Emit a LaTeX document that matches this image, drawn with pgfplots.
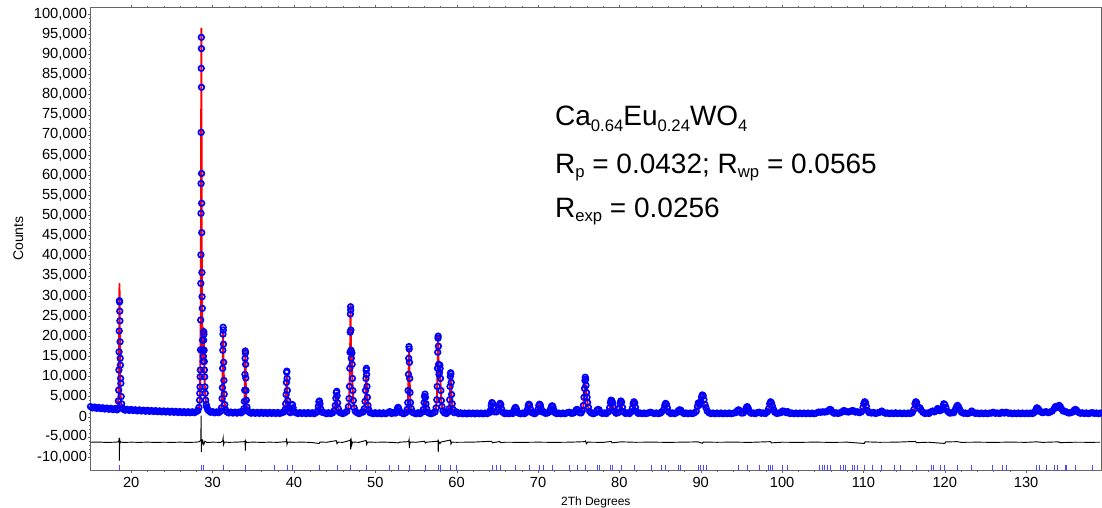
\documentclass[border=0pt]{standalone}
\usepackage{fontspec}
\setmainfont{Liberation Sans}
\usepackage{pgfplots}
\pgfplotsset{compat=1.18}
% subscript in the annotation: smaller and lowered
\newcommand{\sub}[2][-4.5pt]{\raisebox{#1}{\fontsize{12.5}{14}\selectfont #2}}

\begin{document}
\begin{tikzpicture}
\begin{axis}[
  scale only axis,
  width=757.9pt, height=347pt,
  xmin=15, xmax=139.2,
  ymin=-13235, ymax=101650,
  xtick={20,30,40,50,60,70,80,90,100,110,120,130},
  ytick={-10000,-5000,0,5000,10000,15000,20000,25000,30000,35000,40000,45000,50000,55000,60000,65000,70000,75000,80000,85000,90000,95000,100000},
  minor x tick num=4,
  minor y tick num=4,
  scaled y ticks=false,
  scaled x ticks=false,
  /pgf/number format/fixed,
  /pgf/number format/precision=0,
  /pgf/number format/1000 sep={,},
  /pgf/number format/assume math mode=true,
  tick align=outside,
  major tick length=2pt,
  minor tick length=1.2pt,
  axis line style={black!60},
  tick style={black!60},
  tick label style={font=\fontsize{11}{13}\selectfont},
  yticklabel style={inner xsep=0.5pt},
  xlabel={2Th Degrees},
  ylabel={Counts},
  xlabel style={font=\fontsize{9}{11}\selectfont},
  ylabel style={font=\fontsize{10.5}{12}\selectfont, yshift=4pt},
]
% observed
\addplot[only marks, mark=o, mark size=2.1pt, mark options={line width=1.25pt, draw=blue}] coordinates {
(15,2500)(15.25,2180)(15.5,2380)(15.75,2060)(16,2300)(16.25,2000)(16.5,2200)(16.75,1900)(17,2120)(17.25,1850)(17.5,2080)(17.75,1760)(18,1980)(18.25,1700)
(18.35,2100)(18.42,3900)(18.46,6600)(18.49,11600)(18.51,16100)(18.53,21300)(18.55,28800)(18.57,28500)(18.59,26200)(18.61,23800)(18.63,18600)(18.65,14500)(18.67,12800)(18.70,9500)(18.73,8300)(18.77,5000)(18.82,3200)(18.9,2200)
(19,1880)(19.25,1620)(19.5,1820)(19.75,1560)(20,1780)(20.25,1530)(20.5,1700)(20.75,1450)(21,1680)(21.25,1420)(21.5,1600)(21.75,1360)(22,1580)(22.25,1330)(22.5,1520)(22.75,1290)(23,1500)(23.25,1250)(23.5,1440)(23.75,1200)(24,1420)(24.25,1170)(24.5,1370)(24.75,1120)(25,1340)(25.25,1090)(25.5,1300)(25.75,1040)(26,1270)(26.25,1010)(26.5,1240)(26.75,980)(27,1220)(27.25,970)(27.5,1210)(27.75,990)(28,1250)(28.2,1500)(28.32,2300)
(28.40,4100)(28.43,5800)(28.46,7400)(28.48,9900)(28.50,11600)(28.52,16600)(28.54,24000)(28.56,33100)(28.57,40200)(28.58,50500)(28.59,57900)(28.60,70600)(28.61,86500)(28.62,94200)(28.63,91400)(28.64,81800)(28.65,60400)(28.66,53000)(28.67,45700)(28.69,35800)(28.71,29800)(28.74,26900)(28.77,19000)(28.80,16600)(28.84,13700)(28.87,15000)(28.90,19000)(28.92,21100)(28.94,20500)(28.96,16500)(28.98,13700)(29.00,11600)(29.03,9900)(29.06,7400)(29.10,5800)(29.15,4100)(29.22,3000)(29.3,2300)(29.4,1800)
(29.5,1500)(29.75,1100)(30,1250)(30.25,960)(30.5,1180)(30.75,1000)(31.0,1350)
(31.10,2200)(31.17,4500)(31.21,7200)(31.24,12000)(31.26,16500)(31.28,20500)(31.30,22200)(31.32,21500)(31.34,18000)(31.36,13500)(31.39,9000)(31.43,5600)(31.50,3000)(31.6,1700)
(31.75,1200)(32,930)(32.25,1150)(32.5,900)(32.75,1120)(33,880)(33.25,1150)(33.5,950)(33.75,1300)
(33.85,2000)(33.91,3800)(33.95,6600)(33.98,10500)(34.00,14500)(34.02,16300)(34.04,15800)(34.06,13000)(34.08,9600)(34.11,6500)(34.15,4100)(34.22,2400)(34.32,1500)
(34.5,1100)(34.75,850)(35,1080)(35.25,840)(35.5,1050)(35.75,820)(36,1070)(36.25,830)(36.5,1040)(36.75,800)(37,1050)(37.25,820)(37.5,1030)(37.75,790)(38,1040)(38.25,800)(38.5,1000)(38.75,1150)
(38.92,1800)(38.99,3200)(39.04,5500)(39.08,8500)(39.11,11000)(39.13,11300)(39.16,9500)(39.19,6500)(39.23,4000)(39.30,2200)(39.4,1300)
(39.55,1000)(39.68,1900)(39.76,2900)(39.82,3000)(39.9,2200)(40.0,1200)
(40.25,1000)(40.5,780)(40.75,1000)(41,800)(41.25,990)(41.5,760)(41.75,1010)(42,790)(42.25,970)(42.5,760)(42.75,1050)
(42.9,1400)(43.0,2600)(43.07,3700)(43.13,3900)(43.2,3200)(43.3,1900)(43.45,1100)
(43.75,980)(44,750)(44.25,990)(44.5,770)(44.75,950)
(44.95,1500)(45.08,2800)(45.15,4600)(45.21,6000)(45.26,6300)(45.31,5200)(45.37,3400)(45.45,2000)(45.6,1100)
(45.75,960)(46,760)(46.25,980)(46.5,1300)
(46.70,2500)(46.78,4500)(46.83,7500)(46.87,12000)(46.90,16000)(46.92,21000)(46.94,25500)(46.96,27300)(46.98,26500)(47.00,21500)(47.02,16500)(47.05,14500)(47.09,16000)(47.12,15800)(47.15,13000)(47.19,9500)(47.24,6500)(47.30,4000)(47.4,2200)(47.55,1300)
(47.75,1000)(48,770)(48.25,980)(48.5,1200)
(48.65,2000)(48.74,3800)(48.80,6500)(48.85,9500)(48.88,11500)(48.91,12000)(48.94,10500)(48.98,7500)(49.03,4800)(49.1,2800)(49.2,1700)(49.35,1000)
(49.5,950)(49.75,740)(50,980)(50.25,760)(50.5,950)(50.75,720)(51,960)(51.25,750)(51.5,940)(51.75,1250)(51.85,1150)(52,800)(52.25,980)(52.5,900)
(52.65,1500)(52.75,2200)(52.82,2300)(52.9,1900)(53.0,1200)
(53.25,930)(53.5,740)(53.75,1000)
(53.92,1800)(53.99,3500)(54.04,6500)(54.08,10500)(54.11,14500)(54.14,17400)(54.17,16800)(54.20,13500)(54.23,9500)(54.27,6000)(54.33,3500)(54.42,2000)(54.55,1100)
(54.75,930)(55,730)(55.25,970)(55.5,760)(55.75,1100)
(55.9,1800)(56.0,3500)(56.06,5000)(56.11,5600)(56.16,4800)(56.23,3200)(56.33,1900)(56.45,1100)
(56.6,900)(56.85,740)(57.1,930)(57.35,1200)
(57.48,2200)(57.56,4200)(57.61,7500)(57.65,12000)(57.68,16000)(57.71,19500)(57.73,20000)(57.76,17500)(57.79,13000)(57.83,10500)(57.88,11000)(57.93,12800)(57.97,12000)(58.01,9500)(58.06,6500)(58.12,4000)(58.2,2500)(58.32,1400)
(58.5,950)(58.75,780)(59.0,1200)
(59.08,2000)(59.14,4200)(59.19,7500)(59.23,10000)(59.26,10900)(59.29,10600)(59.33,8500)(59.38,5500)(59.45,3200)(59.55,1800)(59.7,1000)
(59.95,1200)(60.25,760)(60.5,950)(60.75,720)(61,900)(61.25,700)(61.5,920)(61.75,750)(62,890)(62.25,700)(62.5,910)(62.75,740)(63,880)(63.25,710)(63.5,900)(63.75,760)(64,1000)
(64.15,1600)(64.25,2800)(64.33,3500)(64.42,3300)(64.52,2200)(64.62,1200)(64.9,1200)
(65.15,1700)(65.25,2900)(65.34,3300)(65.43,3000)(65.53,1900)(65.65,1100)
(65.9,760)(66.15,900)(66.4,730)(66.65,890)(66.9,800)
(67.05,1500)(67.15,2100)(67.24,2300)(67.33,2000)(67.45,1200)
(67.6,900)(67.85,730)(68.1,900)(68.35,750)(68.6,1100)
(68.7,1800)(68.8,2800)(68.88,3100)(68.96,2900)(69.06,2000)(69.18,1100)
(69.35,900)(69.6,740)(69.85,1100)
(70.0,1800)(70.1,2800)(70.19,3100)(70.28,2900)(70.38,2000)(70.5,1200)(70.7,1200)(70.9,850)
(71.15,900)(71.4,1200)
(71.55,1900)(71.65,2500)(71.74,2700)(71.83,2500)(71.94,1700)(72.08,1000)
(72.3,760)(72.55,900)(72.8,740)(73.05,900)(73.3,750)(73.55,950)(73.85,1100)(74.1,830)(74.35,900)(74.55,1200)
(74.7,1700)(74.8,1800)(74.9,1600)(75.1,1000)(75.3,950)
(75.45,1500)(75.58,2800)(75.66,4800)(75.72,7000)(75.77,9000)(75.81,9800)(75.85,9300)(75.9,7800)(75.96,6000)(76.03,4800)(76.1,3500)(76.2,2300)(76.35,1300)(76.55,900)
(76.8,740)(77.05,950)
(77.25,1600)(77.38,1800)(77.5,1700)(77.65,1100)
(77.9,800)(78.15,920)(78.4,760)(78.65,1200)
(78.8,2200)(78.9,3500)(78.98,4100)(79.06,4000)(79.16,3500)(79.26,2400)(79.4,1300)(79.6,850)
(79.85,1000)
(80.0,2000)(80.1,3300)(80.18,3900)(80.27,3600)(80.38,2300)(80.52,1200)
(80.75,800)(81.0,950)(81.25,770)(81.45,1200)
(81.6,2100)(81.7,3200)(81.79,3700)(81.88,3400)(81.98,2300)(82.1,1300)
(82.3,830)(82.55,920)(82.8,750)(83.05,900)(83.3,770)(83.55,920)(83.8,1100)(84.05,950)(84.3,790)(84.55,930)(84.8,760)(85.05,900)(85.2,1200)
(85.45,1800)(85.58,2800)(85.68,3300)(85.78,3100)(85.9,2200)(86.05,1200)
(86.3,800)(86.55,930)(86.8,760)(87.05,1000)
(87.25,1500)(87.4,1700)(87.55,1600)(87.7,1100)
(87.95,770)(88.2,920)(88.45,740)(88.7,900)(88.95,750)(89.2,950)(89.45,1300)
(89.6,2500)(89.7,3400)(89.8,3200)(89.9,3000)(90.0,3800)(90.1,4900)(90.2,5400)(90.3,5200)(90.4,4200)(90.52,3000)(90.65,2200)(90.8,1400)(91.0,1000)
(91.25,770)(91.5,900)(91.75,740)(92,890)(92.25,760)(92.5,910)(92.75,730)(93,880)(93.25,750)(93.5,900)(93.75,740)(94,880)(94.3,1000)
(94.5,1500)(94.65,1700)(94.8,1500)(95.0,900)(95.25,950)
(95.5,1600)(95.62,2300)(95.72,2500)(95.84,2100)(96.0,1200)(96.2,850)
(96.45,930)(96.7,760)(96.95,1000)(97.2,1100)(97.45,850)(97.7,930)(97.95,800)(98.2,1200)
(98.35,2000)(98.48,3200)(98.58,3700)(98.68,3500)(98.8,2700)(98.95,1800)(99.1,1100)
(99.35,800)(99.6,920)(99.85,1000)(100.05,1400)(100.25,1350)(100.5,1000)(100.7,1250)(100.95,800)(101.2,900)(101.45,750)(101.7,890)(101.95,740)(102.2,900)(102.45,760)(102.7,890)(102.95,740)(103.2,900)(103.45,750)(103.7,880)(103.95,740)(104.2,900)(104.5,1150)(104.75,1100)(105.0,1200)(105.25,1150)(105.5,1250)
(105.75,1600)(105.88,1800)(106.0,1700)(106.15,1200)
(106.4,850)(106.65,950)(106.9,800)(107.15,1000)(107.4,1200)(107.55,1500)(107.7,1450)(107.9,1250)(108.15,1150)(108.4,1300)(108.6,1500)(108.8,1450)(109.0,1150)(109.27,1200)(109.5,1000)(109.75,1200)
(109.95,2300)(110.05,3300)(110.15,3700)(110.25,3500)(110.35,2600)(110.5,1500)(110.7,1000)
(111.0,900)(111.25,1050)(111.5,800)(111.75,950)(112.0,1100)(112.25,1400)(112.45,1100)(112.7,850)(112.95,920)(113.2,770)(113.45,900)(113.7,760)(113.95,950)(114.2,780)(114.5,900)(114.75,750)(115.0,890)(115.25,760)(115.5,900)(115.75,780)(116.0,1000)
(116.2,1800)(116.33,3200)(116.43,3700)(116.53,3500)(116.65,2500)(116.8,2100)(116.95,2200)(117.1,1600)(117.3,1100)
(117.55,800)(117.8,920)(118.05,800)(118.3,1200)(118.5,1400)(118.7,1200)(118.9,1400)(119.1,2000)(119.25,1700)(119.4,1500)(119.6,1700)(119.75,2500)(119.88,3200)(120.0,3000)(120.15,2200)(120.35,1300)(120.6,900)
(120.85,950)(121.1,1000)(121.3,1800)(121.45,2500)(121.57,2800)(121.7,2400)(121.85,1700)(122.05,1100)(122.3,850)
(122.55,900)(122.8,780)(123.05,920)(123.3,1400)(123.5,1100)(123.75,800)(124,900)(124.25,750)(124.5,890)(124.75,760)(125,900)(125.25,750)(125.5,880)(125.75,900)(125.95,1100)(126.2,850)(126.45,920)(126.7,800)(126.9,900)(127.06,1100)(127.3,900)(127.55,1100)(127.8,850)(128.05,900)(128.3,750)(128.55,880)(128.8,760)(129.05,900)(129.3,750)(129.55,890)(129.8,760)(130.05,880)(130.3,770)(130.55,900)(130.8,780)(131.05,1100)
(131.2,1800)(131.32,2200)(131.45,2000)(131.6,1600)(131.8,1200)(132.0,1000)(132.2,1100)(132.45,1250)(132.7,1000)(132.95,1150)(133.2,1400)
(133.45,2000)(133.6,2500)(133.75,2300)(133.9,2400)(134.05,2800)(134.2,2500)(134.35,1900)(134.55,1400)(134.8,1300)(135.0,1100)(135.25,900)(135.5,1000)(135.75,1200)
(135.9,1600)(136.05,1800)(136.2,1600)(136.4,1100)(136.65,850)(136.9,950)(137.15,800)(137.4,920)(137.65,770)(137.9,900)(138.15,1000)(138.4,800)(138.65,900)(138.9,770)(139.1,880)
};
% calculated
\addplot[red, line width=1.45pt, line join=round] coordinates {
(15,2330)(16,2150)(17,2000)(18,1860)(18.3,1850)(18.45,5000)(18.52,20000)(18.56,33000)(18.60,20000)(18.68,6000)(18.8,2600)(19.0,1780)(20,1660)(21,1550)(22,1450)(23,1370)(24,1290)(25,1210)(26,1150)(27,1100)(28,1120)
(28.3,1500)(28.45,4500)(28.55,25000)(28.6,70000)(28.62,96400)(28.64,75000)(28.68,35000)(28.75,19000)(28.85,14000)(28.92,22000)(28.98,13000)(29.05,7000)(29.15,4000)(29.3,2000)(29.5,1300)(30,1080)
(31.0,1100)(31.15,3000)(31.24,11000)(31.3,21000)(31.36,12000)(31.45,4000)(31.6,1600)(31.8,1050)
(33.75,1000)(33.9,2600)(33.98,9000)(34.03,17000)(34.08,8500)(34.18,2800)(34.35,1300)(34.5,980)
(38.8,920)(38.98,2600)(39.07,7000)(39.13,10000)(39.19,5500)(39.3,2000)(39.45,1100)(39.6,1000)(39.78,2800)(39.95,1400)(40.1,900)
(42.85,900)(43.02,2600)(43.12,3600)(43.25,2200)(43.5,900)
(44.9,900)(45.1,3000)(45.24,6000)(45.35,3500)(45.5,1400)(45.7,900)
(46.6,1100)(46.8,4000)(46.9,14000)(46.96,27700)(47.01,16000)(47.06,13000)(47.1,15500)(47.18,9000)(47.3,3500)(47.5,1400)(47.7,900)
(48.6,1100)(48.78,4500)(48.9,11000)(48.98,6500)(49.1,2500)(49.35,950)
(51.6,870)(51.77,1200)(51.95,870)(52.55,870)(52.78,2200)(52.95,1300)(53.1,860)
(53.85,1000)(54.0,3000)(54.09,10000)(54.15,16800)(54.22,9000)(54.33,3000)(54.5,1200)(54.7,860)
(55.85,950)(56.0,3000)(56.1,5400)(56.2,3500)(56.35,1500)(56.55,860)
(57.4,1100)(57.58,4500)(57.68,14000)(57.73,20000)(57.79,12000)(57.86,9500)(57.93,12500)(58.02,8000)(58.12,3500)(58.3,1400)(58.5,900)
(59.0,950)(59.15,3800)(59.24,9800)(59.3,9500)(59.4,4000)(59.55,1500)(59.75,880)(59.97,1100)(60.2,850)
(64.0,840)(64.2,1800)(64.35,3300)(64.5,2000)(64.7,1000)(64.95,1150)(65.15,1500)(65.35,3200)(65.52,1700)(65.75,850)
(66.95,850)(67.12,1800)(67.25,2200)(67.4,1300)(67.6,850)
(68.55,850)(68.72,1800)(68.88,3000)(69.05,1800)(69.25,850)
(69.85,870)(70.02,1800)(70.2,3000)(70.37,1800)(70.55,1000)(70.7,1200)(70.85,850)
(71.4,870)(71.58,1700)(71.74,2600)(71.9,1700)(72.1,850)
(73.7,850)(73.86,1100)(74.0,850)(74.4,870)(74.6,1200)(74.8,1700)(75.0,1100)(75.3,1000)
(75.55,2200)(75.7,6000)(75.8,9400)(75.9,7000)(76.05,4000)(76.2,2000)(76.45,1000)(76.7,850)
(77.1,870)(77.3,1500)(77.5,1600)(77.7,1000)(77.9,850)
(78.6,870)(78.8,1800)(78.98,4000)(79.1,3000)(79.2,3400)(79.35,1800)(79.55,900)
(79.85,880)(80.02,1800)(80.2,3700)(80.36,2000)(80.6,880)
(81.45,880)(81.63,1800)(81.8,3500)(81.97,2000)(82.2,870)
(83.8,870)(83.96,1100)(84.1,860)(85.2,1000)(85.45,1500)(85.7,3200)(85.9,1900)(86.15,870)
(87.1,870)(87.3,1400)(87.5,1600)(87.7,1000)(87.9,850)
(89.4,900)(89.62,2600)(89.7,3300)(89.85,2700)(90.0,3200)(90.2,5200)(90.35,3600)(90.5,2800)(90.7,1600)(91.0,900)
(94.3,860)(94.5,1300)(94.65,1600)(94.85,1100)(95.1,870)(95.45,1200)(95.7,2400)(95.9,1400)(96.2,850)
(97.0,860)(97.2,1100)(97.4,860)(98.1,900)(98.3,1700)(98.45,2800)(98.6,3600)(98.75,2800)(98.9,1900)(99.1,1000)(99.3,850)
(99.9,870)(100.06,1300)(100.3,1200)(100.5,950)(100.67,1150)(100.9,850)
(104.3,850)(104.55,1100)(104.95,1150)(105.3,1050)(105.56,1150)(105.9,1700)(106.1,1300)(106.4,860)
(107.2,950)(107.55,1400)(107.8,1300)(108.1,1000)(108.6,1400)(108.86,1300)(109.27,1150)(109.6,1000)
(109.9,1700)(110.05,2800)(110.15,3600)(110.3,2400)(110.45,1400)(110.7,900)
(111.1,980)(111.4,850)(112.0,950)(112.25,1300)(112.5,950)(112.8,850)
(116.0,900)(116.2,1600)(116.35,2800)(116.45,3500)(116.6,2300)(116.8,1800)(116.95,2000)(117.15,1200)(117.4,850)
(118.1,870)(118.3,1200)(118.6,1300)(118.85,1200)(119.1,1800)(119.3,1400)(119.6,1500)(119.88,3000)(120.05,2400)(120.3,1200)(120.6,870)
(121.1,950)(121.35,1600)(121.57,2600)(121.8,1600)(122.1,900)(122.4,850)
(123.1,870)(123.3,1300)(123.55,870)(125.7,850)(125.9,1050)(126.1,850)(126.9,870)(127.06,1050)(127.3,900)(127.55,1050)(127.8,850)
(130.8,850)(131.05,950)(131.3,2000)(131.5,1600)(131.75,1100)(132.0,950)(132.45,1150)(132.8,950)(133.2,1200)
(133.6,2300)(133.85,1900)(134.05,2600)(134.3,1700)(134.8,1200)(135.2,900)(135.8,1100)(136.05,1700)(136.3,1100)(136.6,870)(138.2,950)(138.4,850)(139.1,860)
};
% difference
\addplot[black, line width=0.7pt] coordinates {
(15,-6350)(16,-6300)(17,-6400)(18,-6330)(18.45,-6250)(18.5,-5700)(18.53,-6100)(18.55,-10900)(18.58,-5300)(18.62,-6600)(18.7,-6250)(19,-6400)(20,-6330)(21,-6380)(22,-6320)(23,-6400)(24,-6340)(25,-6380)(26,-6330)(27,-6390)(28,-6330)
(28.4,-6200)(28.55,-5800)(28.6,250)(28.62,-8800)(28.65,-5600)(28.7,-6800)(28.8,-6000)(28.92,-6900)(29.05,-6100)(29.3,-6400)(30,-6330)(31,-6380)(31.25,-6000)(31.3,-5300)(31.35,-6900)(31.45,-6300)(32,-6370)(33,-6320)
(33.95,-6200)(34.0,-6000)(34.03,-8400)(34.07,-6100)(34.2,-6380)(35,-6320)(36,-6380)(37,-6330)(38,-6370)(39.05,-6200)(39.1,-5400)(39.15,-6900)(39.25,-6300)(40,-6360)(41,-6320)(42,-6380)(43.1,-6650)(43.2,-6300)(44,-6360)
(45.2,-5950)(45.3,-6700)(45.4,-6330)(46,-6370)(46.9,-5900)(46.95,-5700)(46.98,-8100)(47.05,-6000)(47.12,-6900)(47.2,-6300)(48,-6370)(48.88,-5900)(48.95,-6900)(49.05,-6300)(50,-6360)(51,-6320)(52,-6380)(52.8,-6500)(53,-6330)
(54.1,-6200)(54.15,-5700)(54.18,-7800)(54.24,-6800)(54.3,-6300)(55,-6360)(56.05,-6100)(56.15,-6550)(56.3,-6330)(57.65,-6100)(57.7,-5900)(57.74,-8800)(57.78,-6100)(57.95,-6700)(58.05,-6300)(59.25,-5800)(59.3,-6800)(59.4,-6330)
(60,-6360)(62,-6320)(64.3,-6100)(64.4,-6500)(65.3,-6150)(65.4,-6450)(66,-6340)(68,-6380)(70,-6330)(72,-6380)(74,-6330)(75.75,-6200)(75.85,-6000)(75.95,-6700)(76.1,-6330)(78,-6380)(79.0,-6150)(79.1,-6500)(80.2,-6250)
(82,-6360)(84,-6320)(86,-6380)(88,-6320)(89.7,-6250)(90.2,-6600)(90.3,-6300)(92,-6360)(94,-6320)(96,-6380)(98.6,-6200)(98.7,-6500)(100,-6340)(102,-6380)(104,-6320)(106,-6380)(108,-6330)(110.1,-6650)(110.2,-6250)
(112,-6360)(114,-6330)(116.4,-6150)(116.5,-6450)(118,-6340)(120,-6650)(120.1,-6280)(121.5,-6200)(122,-6370)(124,-6330)(126,-6380)(128,-6320)(130,-6370)(131.3,-6250)(132,-6380)(134,-6250)(134.1,-6450)(136,-6340)(138,-6370)(139.1,-6340)
};
% reflection positions
\addplot[only marks, mark=|, mark size=2.1pt, mark options={blue!70, line width=0.6pt}] coordinates {
(18.56,-12690)(28.61,-12690)(28.89,-12690)(31.35,-12690)(34.02,-12690)(37.63,-12690)(39.14,-12690)(39.8,-12690)(43.16,-12690)(45.29,-12690)(46.94,-12690)(48.9,-12690)(51.77,-12690)(52.8,-12690)(54.15,-12690)(56.1,-12690)(57.7,-12690)(58.0,-12690)(59.27,-12690)(59.97,-12690)
(64.4,-12690)(64.94,-12690)(65.4,-12690)(67.26,-12690)(68.9,-12690)(70.2,-12690)(70.7,-12690)(71.74,-12690)(73.86,-12690)(74.8,-12690)(75.8,-12690)(77.24,-12690)(77.5,-12690)(78.95,-12690)(79.2,-12690)(80.2,-12690)(81.8,-12690)(83.96,-12690)(85.2,-12690)(85.7,-12690)
(87.2,-12690)(87.5,-12690)(89.67,-12690)(89.95,-12690)(90.28,-12690)(90.68,-12690)(94.64,-12690)(95.7,-12690)(97.2,-12690)(98.3,-12690)(98.6,-12690)(98.84,-12690)(100.06,-12690)(100.67,-12690)(104.55,-12690)(104.98,-12690)(105.2,-12690)(105.56,-12690)(105.9,-12690)
(107.2,-12690)(107.55,-12690)(107.8,-12690)(108.6,-12690)(108.86,-12690)(109.27,-12690)(110.1,-12690)(111.1,-12690)(112.25,-12690)(113.8,-12690)(114.5,-12690)(116.5,-12690)(118.3,-12690)(118.6,-12690)(119.4,-12690)(119.9,-12690)(121.6,-12690)(123.3,-12690)
(125.9,-12690)(127.06,-12690)(127.55,-12690)(131.3,-12690)(131.6,-12690)(132.45,-12690)(133.5,-12690)(133.87,-12690)(134.77,-12690)(134.9,-12690)(136.1,-12690)(138.2,-12690)
};
\node[anchor=base west, inner sep=0pt, font=\fontsize{21}{25}\selectfont] at (axis cs:72.07,72430) {Ca\sub{0.64}Eu\sub{0.24}WO\sub{4}};
\node[anchor=base west, inner sep=0pt, font=\fontsize{21}{25}\selectfont] at (axis cs:72.07,60440) {R\sub[-3.5pt]{p} = 0.0432; R\sub[-3.5pt]{wp} = 0.0565};
\node[anchor=base west, inner sep=0pt, font=\fontsize{21}{25}\selectfont] at (axis cs:72.07,49510) {R\sub[-3.5pt]{exp} = 0.0256};
\end{axis}
\pgfresetboundingbox
\path[use as bounding box] ([shift={(-67.9pt,-28.5pt)}]current axis.south west) rectangle ([shift={(0.75pt,5.5pt)}]current axis.north east);
\end{tikzpicture}
\end{document}
